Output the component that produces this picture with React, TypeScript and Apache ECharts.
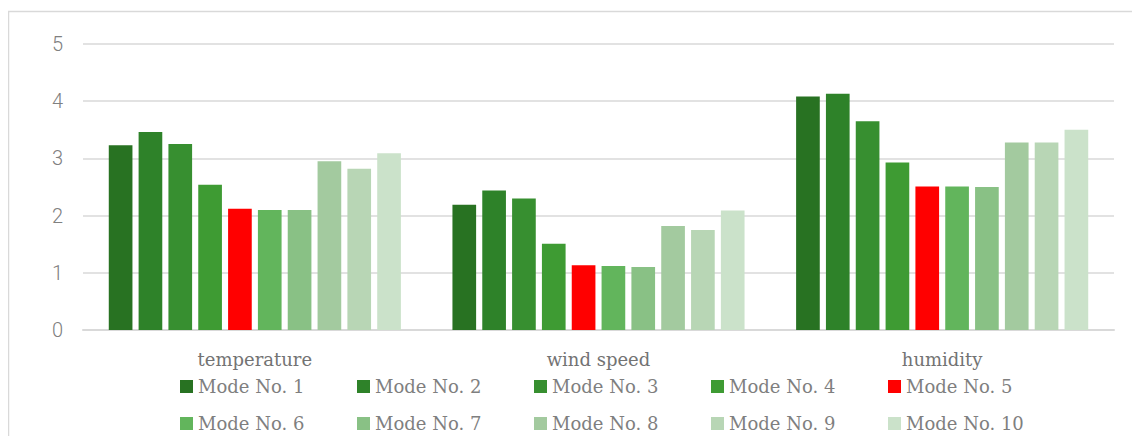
import React, { useEffect, useRef } from "react";
import * as echarts from "echarts";

const categories = ["temperature", "wind speed", "humidity"];
const modeNames = [
  "Mode No. 1", "Mode No. 2", "Mode No. 3", "Mode No. 4", "Mode No. 5",
  "Mode No. 6", "Mode No. 7", "Mode No. 8", "Mode No. 9", "Mode No. 10",
];
const modeColors = [
  "#287222", "#2e8229", "#378f30", "#3e9b33", "#ff0000",
  "#62b55c", "#89c185", "#a3ca9f", "#b8d6b5", "#cbe2ca",
];
// values per mode: [temperature, wind speed, humidity]
const mode1 = [3.23, 2.19, 4.08];
const mode2 = [3.46, 2.44, 4.13];
const mode3 = [3.25, 2.30, 3.65];
const mode4 = [2.54, 1.51, 2.93];
const mode5 = [2.12, 1.13, 2.51];
const mode6 = [2.10, 1.12, 2.51];
const mode7 = [2.10, 1.10, 2.50];
const mode8 = [2.95, 1.82, 3.28];
const mode9 = [2.82, 1.75, 3.28];
const mode10 = [3.09, 2.09, 3.50];
const modeValues = [mode1, mode2, mode3, mode4, mode5, mode6, mode7, mode8, mode9, mode10];
const yTicks = [0, 1, 2, 3, 4, 5];

const serif = "'DejaVu Serif', 'Liberation Serif', serif";
const sans = "Roboto, 'Noto Sans', sans-serif";

export default function App() {
  const ref = useRef<HTMLDivElement>(null);

  useEffect(() => {
    if (!ref.current) return;
    const chart = echarts.init(ref.current, undefined, { renderer: "svg" });

    const legendCommon = {
      itemWidth: 13,
      itemHeight: 13,
      itemGap: 9,
      icon: "rect",
      formatter: (name: string) => `{t|${name}}`,
      textStyle: {
        fontFamily: serif,
        fontSize: 18,
        color: "#7f7f7f",
        lineHeight: 20,
        rich: {
          t: {
            fontFamily: serif,
            fontSize: 18,
            color: "#7f7f7f",
            lineHeight: 20,
            width: 150,
          },
        },
      },
    };

    chart.setOption({
      animation: false,
      graphic: [
        {
          type: "rect",
          shape: { x: 0.5, y: 3.5, width: 1400, height: 600 },
          style: { fill: "none", stroke: "#d9d9d9", lineWidth: 1.5 },
          silent: true,
        },
      ],
      legend: [
        { ...legendCommon, left: 167, top: 363.5, data: modeNames.slice(0, 5) },
        { ...legendCommon, left: 167, top: 400.5, data: modeNames.slice(5, 10) },
      ],
      grid: { left: 75, right: 26, top: 36, bottom: 106 },
      xAxis: {
        type: "category",
        data: categories,
        axisTick: { show: false },
        axisLine: { lineStyle: { color: "#d9d9d9", width: 2 } },
        axisLabel: {
          fontFamily: serif,
          fontSize: 18,
          color: "#737373",
          margin: 20,
        },
      },
      yAxis: {
        type: "value",
        min: yTicks[0],
        max: yTicks[yTicks.length - 1],
        interval: 1,
        axisLine: { show: false },
        axisTick: { show: false },
        splitLine: { lineStyle: { color: "#d9d9d9", width: 1.5 } },
        axisLabel: {
          fontFamily: sans,
          fontSize: 20,
          fontWeight: 300,
          color: "#808080",
          margin: 20,
        },
      },
      series: modeValues.map((vals, i) => ({
        name: modeNames[i],
        type: "bar",
        data: vals,
        barGap: "26%",
        barCategoryGap: "15%",
        itemStyle: { color: modeColors[i] },
      })),
    });

    return () => chart.dispose();
  }, []);

  return <div ref={ref} style={{ width: 1132, height: 428 }} />;
}
